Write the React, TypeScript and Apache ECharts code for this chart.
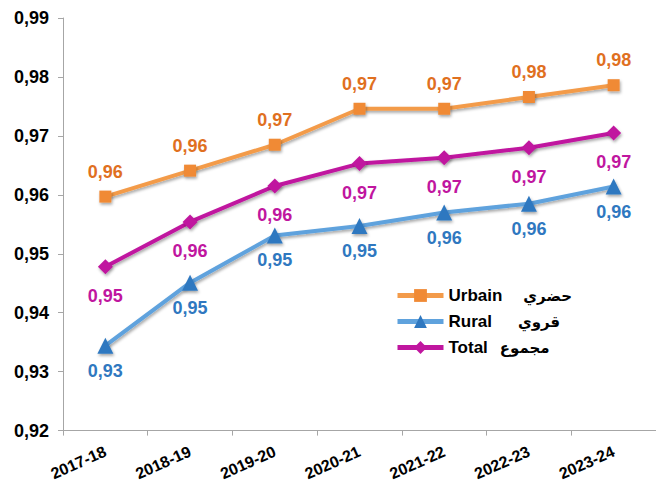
import React, { useEffect, useRef } from "react";
import * as echarts from "echarts";

const categories = ["2017-18", "2018-19", "2019-20", "2020-21", "2021-22", "2022-23", "2023-24"];
const urbain = [0.9597, 0.9641, 0.9685, 0.9746, 0.9746, 0.9766, 0.9786];
const rural = [0.9344, 0.9451, 0.9531, 0.9547, 0.957, 0.9585, 0.9614];
const total = [0.9478, 0.9554, 0.9615, 0.9653, 0.9663, 0.968, 0.9705];
const seriesNames = ["Urbain", "Rural", "Total"];
const arabicNames = ["حضري", "قروي", "مجموع"];
const arabicGap = [21, 26, 12];

const fmt = (v: number) => v.toFixed(2).replace(".", ",");

export default function App() {
  const ref = useRef<HTMLDivElement>(null);
  useEffect(() => {
    const chart = echarts.init(ref.current!, undefined, { renderer: "svg" });
    const font = "Arial, 'Liberation Sans', sans-serif";
    const shadow = { shadowBlur: 3, shadowColor: "rgba(0,0,0,0.35)", shadowOffsetX: 1, shadowOffsetY: 2 };
    const mk = (name: string, data: number[], lineColor: string, markColor: string, labelColor: string, symbol: string, size: number, pos: string, dist: number) => ({
      name,
      type: "line",
      data,
      symbol,
      symbolSize: size,
      lineStyle: { color: lineColor, width: 4, ...shadow },
      itemStyle: { color: markColor, ...shadow },
      label: {
        show: true,
        position: pos,
        distance: dist,
        color: labelColor,
        fontWeight: "bold",
        fontSize: 18,
        fontFamily: font,
        formatter: (p: any) => fmt(p.value),
      },
    });
    chart.setOption({
      animation: false,
      textStyle: { fontFamily: font },
      grid: { left: 63, right: 0, top: 18, bottom: 51, containLabel: false },
      legend: {
        orient: "vertical",
        left: 390,
        top: 282,
        itemGap: 9,
        itemWidth: 46,
        itemHeight: 16,
        data: seriesNames,
        lineStyle: { width: 5 },
        formatter: (n: string) => {
          const i = seriesNames.indexOf(n);
          return `{a|${n}}{g${i}|}{b|${arabicNames[i]}}`;
        },
        textStyle: {
          fontSize: 17,
          fontWeight: "bold",
          color: "#000",
          fontFamily: font,
          rich: {
            a: { fontSize: 17, fontWeight: "bold", color: "#000", fontFamily: font, lineHeight: 18 },
            b: { fontSize: 15, fontWeight: "bold", color: "#000", fontFamily: "'DejaVu Sans', sans-serif", lineHeight: 18 },
            g0: { width: arabicGap[0] },
            g1: { width: arabicGap[1] },
            g2: { width: arabicGap[2] },
          },
        },
      },
      xAxis: {
        type: "category",
        data: categories,
        boundaryGap: true,
        axisLine: { lineStyle: { color: "#a6a6a6", width: 1 } },
        axisTick: { show: true, length: 5, lineStyle: { color: "#a6a6a6" } },
        axisLabel: { rotate: 24, color: "#000", fontWeight: "bold", fontSize: 16, margin: 20, interval: 0 },
      },
      yAxis: {
        type: "value",
        min: 0.92,
        max: 0.99,
        interval: 0.01,
        splitLine: { show: false },
        axisLine: { show: true, lineStyle: { color: "#a6a6a6", width: 1 } },
        axisTick: { show: true, length: 5, lineStyle: { color: "#a6a6a6" } },
        axisLabel: { color: "#000", fontWeight: "bold", fontSize: 18, margin: 14, formatter: (v: number) => fmt(v) },
      },
      series: [
        mk("Urbain", urbain, "#F39B4A", "#F08A35", "#E0701F", "rect", 12, "top", 10),
        mk("Rural", rural, "#5FA2DD", "#2F78C0", "#2F78C0", "triangle", 16, "bottom", 8),
        mk("Total", total, "#C0169F", "#C0169F", "#C0169F", "diamond", 15, "bottom", 13),
      ],
    });
    return () => chart.dispose();
  }, []);
  return <div ref={ref} style={{ position: "absolute", left: 0, top: 0, width: 656, height: 483 }} />;
}
